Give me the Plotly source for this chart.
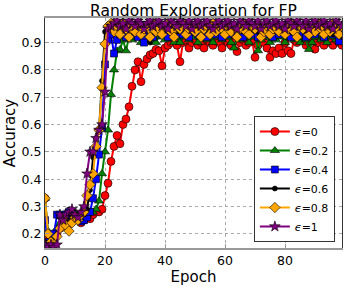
import plotly.graph_objects as go

epochs = list(range(100))

acc_eps0 = [0.33, 0.19, 0.16, 0.17, 0.20, 0.22, 0.23, 0.25, 0.26, 0.27,
            0.26, 0.25, 0.24, 0.25, 0.26, 0.255, 0.27, 0.28, 0.28, 0.29,
            0.34, 0.385, 0.465, 0.52, 0.56, 0.53, 0.60, 0.62, 0.665, 0.74,
            0.80, 0.83, 0.757, 0.82, 0.84, 0.855, 0.86, 0.875, 0.87, 0.815,
            0.88, 0.89, 0.90, 0.91, 0.89, 0.83, 0.90, 0.91, 0.88, 0.90,
            0.91, 0.89, 0.90, 0.88, 0.91, 0.90, 0.89, 0.91, 0.90, 0.88,
            0.91, 0.90, 0.89, 0.91, 0.867, 0.90, 0.91, 0.89, 0.90, 0.91,
            0.846, 0.89, 0.91, 0.90, 0.88, 0.846, 0.87, 0.86, 0.88, 0.86,
            0.90, 0.87, 0.86, 0.91, 0.90, 0.92, 0.91, 0.89, 0.90, 0.91,
            0.876, 0.90, 0.91, 0.89, 0.91, 0.90, 0.89, 0.91, 0.90, 0.89]

acc_eps02 = [0.33, 0.21, 0.17, 0.20, 0.22, 0.24, 0.25, 0.26, 0.27, 0.27,
             0.28, 0.27, 0.26, 0.27, 0.27, 0.28, 0.28, 0.29, 0.32, 0.42,
             0.50, 0.58, 0.71, 0.80, 0.87, 0.875, 0.91, 0.87, 0.92, 0.91,
             0.92, 0.93, 0.90, 0.92, 0.93, 0.91, 0.92, 0.90, 0.93, 0.92,
             0.91, 0.93, 0.92, 0.90, 0.92, 0.90, 0.93, 0.92, 0.91, 0.93,
             0.92, 0.90, 0.92, 0.93, 0.91, 0.92, 0.90, 0.93, 0.92, 0.91,
             0.93, 0.92, 0.90, 0.88, 0.92, 0.91, 0.93, 0.92, 0.90, 0.92,
             0.93, 0.87, 0.91, 0.93, 0.92, 0.90, 0.92, 0.91, 0.93, 0.92,
             0.90, 0.92, 0.93, 0.91, 0.92, 0.90, 0.92, 0.91, 0.875, 0.90,
             0.92, 0.93, 0.91, 0.92, 0.90, 0.93, 0.92, 0.91, 0.92, 0.90]

acc_eps04 = [0.25, 0.17, 0.16, 0.20, 0.27, 0.27, 0.265, 0.27, 0.28, 0.27,
             0.26, 0.25, 0.245, 0.25, 0.26, 0.28, 0.33, 0.40, 0.49, 0.59,
             0.82, 0.91, 0.93, 0.86, 0.91, 0.93, 0.94, 0.92, 0.95, 0.93,
             0.94, 0.92, 0.95, 0.90, 0.94, 0.95, 0.92, 0.94, 0.95, 0.93,
             0.94, 0.92, 0.95, 0.94, 0.93, 0.95, 0.93, 0.94, 0.92, 0.95,
             0.94, 0.93, 0.95, 0.94, 0.92, 0.94, 0.95, 0.93, 0.94, 0.92,
             0.95, 0.93, 0.94, 0.95, 0.93, 0.94, 0.92, 0.95, 0.94, 0.93,
             0.95, 0.92, 0.94, 0.95, 0.93, 0.94, 0.92, 0.95, 0.93, 0.94,
             0.95, 0.93, 0.92, 0.94, 0.95, 0.93, 0.94, 0.92, 0.95, 0.94,
             0.93, 0.95, 0.94, 0.92, 0.94, 0.95, 0.93, 0.94, 0.905, 0.93]

acc_eps06 = [0.17, 0.15, 0.16, 0.18, 0.20, 0.22, 0.24, 0.25, 0.27, 0.28,
             0.26, 0.27, 0.28, 0.27, 0.29, 0.36, 0.48, 0.55, 0.58, 0.76,
             0.94, 0.96, 0.95, 0.97, 0.94, 0.96, 0.97, 0.95, 0.96, 0.94,
             0.97, 0.96, 0.95, 0.97, 0.96, 0.90, 0.97, 0.95, 0.96, 0.94,
             0.97, 0.96, 0.95, 0.97, 0.94, 0.96, 0.97, 0.95, 0.96, 0.97,
             0.94, 0.96, 0.95, 0.97, 0.96, 0.94, 0.97, 0.95, 0.96, 0.97,
             0.95, 0.94, 0.96, 0.97, 0.95, 0.96, 0.94, 0.97, 0.96, 0.95,
             0.97, 0.94, 0.96, 0.95, 0.97, 0.96, 0.94, 0.97, 0.95, 0.96,
             0.97, 0.95, 0.94, 0.96, 0.97, 0.95, 0.96, 0.94, 0.97, 0.96,
             0.95, 0.97, 0.94, 0.96, 0.95, 0.97, 0.93, 0.96, 0.94, 0.92]

acc_eps08 = [0.33, 0.20, 0.17, 0.16, 0.19, 0.22, 0.255, 0.23, 0.21, 0.24,
             0.26, 0.25, 0.27, 0.28, 0.34, 0.38, 0.42, 0.52, 0.58, 0.735,
             0.895, 0.96, 0.97, 0.94, 0.96, 0.93, 0.97, 0.95, 0.92, 0.96,
             0.94, 0.97, 0.93, 0.95, 0.96, 0.92, 0.97, 0.94, 0.95, 0.93,
             0.96, 0.97, 0.94, 0.92, 0.96, 0.95, 0.97, 0.93, 0.95, 0.96,
             0.94, 0.97, 0.92, 0.95, 0.96, 0.93, 0.97, 0.94, 0.96, 0.95,
             0.93, 0.97, 0.94, 0.96, 0.92, 0.95, 0.97, 0.94, 0.93, 0.96,
             0.95, 0.97, 0.92, 0.94, 0.96, 0.93, 0.95, 0.97, 0.94, 0.96,
             0.93, 0.95, 0.97, 0.94, 0.92, 0.96, 0.95, 0.97, 0.93, 0.96,
             0.94, 0.97, 0.95, 0.93, 0.96, 0.94, 0.97, 0.95, 0.93, 0.96]

acc_eps1 = [0.16, 0.15, 0.16, 0.15, 0.16, 0.27, 0.25, 0.27, 0.28, 0.29,
            0.27, 0.26, 0.28, 0.30, 0.42, 0.50, 0.50, 0.55, 0.58, 0.60,
            0.72, 0.95, 0.96, 0.97, 0.98, 0.96, 0.97, 0.95, 0.98, 0.97,
            0.96, 0.98, 0.97, 0.95, 0.97, 0.98, 0.96, 0.97, 0.98, 0.96,
            0.97, 0.95, 0.98, 0.97, 0.96, 0.98, 0.97, 0.96, 0.98, 0.95,
            0.97, 0.98, 0.96, 0.97, 0.98, 0.96, 0.95, 0.97, 0.98, 0.96,
            0.97, 0.98, 0.96, 0.97, 0.95, 0.98, 0.97, 0.96, 0.98, 0.97,
            0.96, 0.98, 0.95, 0.97, 0.98, 0.96, 0.97, 0.98, 0.96, 0.97,
            0.95, 0.98, 0.97, 0.96, 0.98, 0.97, 0.96, 0.98, 0.95, 0.97,
            0.98, 0.96, 0.97, 0.98, 0.96, 0.97, 0.95, 0.98, 0.97, 0.96]

series_names = ["<i>ϵ</i>=0", "<i>ϵ</i>=0.2", "<i>ϵ</i>=0.4", "<i>ϵ</i>=0.6", "<i>ϵ</i>=0.8", "<i>ϵ</i>=1"]
series_values = [acc_eps0, acc_eps02, acc_eps04, acc_eps06, acc_eps08, acc_eps1]
x_ticks = [0, 20, 40, 60, 80]
y_ticks = [0.2, 0.3, 0.4, 0.5, 0.6, 0.7, 0.8, 0.9]

colors = ["#ff0000", "#008000", "#0000ff", "#000000", "#ffa500", "#800080"]
symbols = ["circle", "triangle-up", "square", "circle", "diamond", "star"]
sizes = [8, 8, 7, 5, 8, 8]

fig = go.Figure()
for name, vals, c, s, sz in zip(series_names, series_values, colors, symbols, sizes):
    fig.add_trace(go.Scatter(
        x=epochs, y=vals, name=name, mode="lines+markers",
        line=dict(color=c, width=2),
        marker=dict(symbol=s, size=sz, color=c, line=dict(color="black", width=0.6)),
    ))

font_family = "DejaVu Sans"
fig.update_layout(
    width=346, height=287,
    margin=dict(l=45, r=4, t=18, b=39, autoexpand=False),
    paper_bgcolor="white", plot_bgcolor="white",
    font=dict(family=font_family, size=12, color="black"),
    title=dict(text="Random Exploration for FP", x=0.559, xanchor="center",
               y=0.962, yanchor="middle", font=dict(size=15.5)),
    showlegend=True,
    legend=dict(x=0.976, y=0.026, xanchor="right", yanchor="bottom",
                bgcolor="white", bordercolor="#333333", borderwidth=1,
                font=dict(size=11), tracegroupgap=0),
)
fig.update_xaxes(
    range=[0, 99], tickvals=x_ticks, ticks="inside", ticklen=4, tickcolor="#999999",
    showgrid=True, gridcolor="#aaaaaa", griddash="dot", gridwidth=1,
    showline=True, linecolor="#999999", linewidth=2, mirror=True,
    zeroline=False, tickfont=dict(size=12.5), automargin=False,
    title=dict(text="Epoch", font=dict(size=15), standoff=2),
)
fig.update_yaxes(
    range=[0.148, 0.99], tickvals=y_ticks, tickformat=".1f", ticks="inside", ticklen=4,
    tickcolor="#999999",
    showgrid=True, gridcolor="#aaaaaa", griddash="dot", gridwidth=1,
    showline=True, linecolor="#333333", linewidth=1, mirror=True,
    zeroline=False, tickfont=dict(size=12.5), automargin=False,
    title=dict(text="Accuracy", font=dict(size=15), standoff=2),
)

fig.write_html("out.html", config={"displayModeBar": False},
               post_script="document.body.style.margin='0px';")
